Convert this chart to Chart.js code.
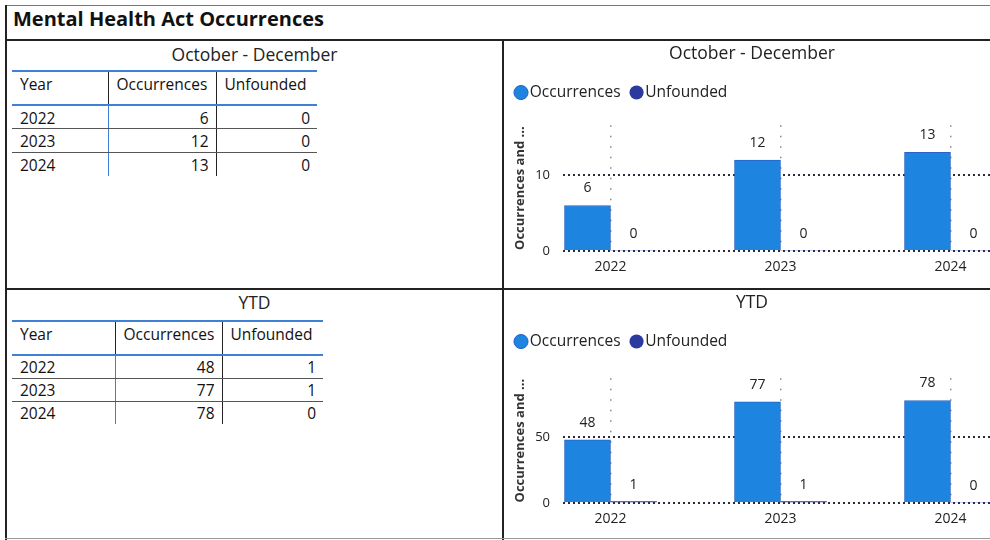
<!DOCTYPE html>
<html>
<head>
<meta charset="utf-8">
<title>Mental Health Act Occurrences</title>
<script src="https://cdn.jsdelivr.net/npm/chart.js@4.4.0/dist/chart.umd.min.js"></script>
<style>
  body { margin: 0; width: 990px; height: 540px; overflow: hidden; background: #fff;
         font-family: 'Open Sans', sans-serif; color: #222; position: relative; }
  .ln { position: absolute; background: #222; }
  #mainTitle { position: absolute; left: 13px; top: 5px; font-size: 20px; font-weight: bold; line-height: 28px; color: #111; }
  .panelTitle { position: absolute; width: 495px; left: 7px; text-align: center; font-size: 17.5px; line-height: 24px; }
  table { position: absolute; left: 12px; border-collapse: collapse; font-size: 15.5px; color: #111; }
  th { font-weight: normal; text-align: left; height: 30px; padding: 2px 0 0 8px; vertical-align: top; line-height: 20px;
       border-top: 2px solid #3d80d6; border-bottom: 2px solid #3d80d6; }
  td { height: 23px; padding: 1px 7px 0 8px; border-bottom: 1px solid #555; line-height: 18px; box-sizing: border-box; }
  #tblY td { height: 23px; }
  #tblQ td { height: 23.5px; }
  tr:last-child td { border-bottom: none; }
  td.num { text-align: right; }
  .c1 { border-right: 1.5px solid #3d80d6; }
  th.c1 { border-right-color: #222; }
  .c2 { border-right: 1.5px solid #222; }
  .chartBox { position: absolute; left: 505px; width: 494px; }
</style>
</head>
<body>
<div id="mainTitle">Mental Health Act Occurrences</div>
<!-- frame lines -->
<div class="ln" style="left:5px;top:5px;width:985px;height:1px;background:#777"></div>
<div class="ln" style="left:5px;top:5px;width:2px;height:535px"></div>
<div class="ln" style="left:5px;top:39px;width:985px;height:2px"></div>
<div class="ln" style="left:5px;top:288px;width:985px;height:2px"></div>
<div class="ln" style="left:502px;top:40px;width:2px;height:500px"></div>
<div class="ln" style="left:5px;top:538px;width:985px;height:1px;background:#999"></div>

<div class="panelTitle" style="top:42px">October - December</div>
<table id="tblQ" style="top:70px">
  <colgroup><col style="width:96px"><col style="width:108px"><col style="width:101px"></colgroup>
</table>
<div class="chartBox" style="top:42px;height:246px"><canvas id="chartQ"></canvas></div>

<div class="panelTitle" style="top:290px">YTD</div>
<table id="tblY" style="top:320px">
  <colgroup><col style="width:103px"><col style="width:107px"><col style="width:101px"></colgroup>
</table>
<div class="chartBox" style="top:291px;height:249px"><canvas id="chartY"></canvas></div>

<script>
const years = [2022, 2023, 2024];
const columns = ['Year', 'Occurrences', 'Unfounded'];
const seriesNames = ['Occurrences', 'Unfounded'];

// October - December
const occQuarter = [6, 12, 13];
const unfQuarter = [0, 0, 0];

// year to date
const occYtd = [48, 77, 78];
const unfYtd = [1, 1, 0];

const axisTitle = 'Occurrences and ...';

function fillTable(id, occ, unf) {
    const tbl = document.getElementById(id);
    let html = '<tr><th class="c1">' + columns[0] + '</th><th class="c2">' + columns[1] + '</th><th>' + columns[2] + '</th></tr>';
    years.forEach((y, i) => {
        html += '<tr><td class="c1">' + y + '</td><td class="c2 num">' + occ[i] + '</td><td class="num">' + unf[i] + '</td></tr>';
    });
    tbl.insertAdjacentHTML('beforeend', html);
}
fillTable('tblQ', occQuarter, unfQuarter);
fillTable('tblY', occYtd, unfYtd);

Chart.defaults.font.family = "'Open Sans', sans-serif";
Chart.defaults.color = '#222';

// value labels above each bar
const barLabels = {
    id: 'barLabels',
    afterDatasetsDraw(chart) {
        const ctx = chart.ctx;
        ctx.save();
        ctx.font = '14px "Open Sans"';
        ctx.fillStyle = '#222';
        ctx.textAlign = 'center';
        ctx.textBaseline = 'middle';
        chart.data.datasets.forEach((ds, i) => {
            chart.getDatasetMeta(i).data.forEach((bar, j) => {
                ctx.fillText(ds.data[j], bar.x, bar.y - 17);
            });
        });
        ctx.restore();
    }
};

// extra space between legend and plot
function legendGap(gap) {
    return {
        id: 'legendGap',
        beforeInit(chart) {
            const fitValue = chart.legend.fit;
            chart.legend.fit = function fit() {
                fitValue.bind(chart.legend)();
                this.height += gap;
            };
        }
    };
}

function makeChart(id, title, occ, unf, yMax, yStep, gap) {
    return new Chart(document.getElementById(id), {
        type: 'bar',
        plugins: [barLabels, legendGap(gap)],
        data: {
            labels: years,
            datasets: [{
                label: seriesNames[0],
                data: occ,
                backgroundColor: '#1d84e0',
                borderColor: '#2763c9',
                borderWidth: 1,
                barThickness: 46,
            },
            {
                label: seriesNames[1],
                data: unf,
                backgroundColor: '#2a3a9e',
                borderColor: '#2a3a9e',
                borderWidth: 0,
                barThickness: 46,
            }]
        },
        options: {
            responsive: true,
            maintainAspectRatio: false,
            animation: false,
            layout: { padding: 0 },
            plugins: {
                title: {
                    display: true,
                    text: title,
                    font: { size: 17.5, weight: 'normal' },
                    color: '#222',
                    padding: { top: 2, bottom: 4.8 },
                },
                legend: {
                    position: 'top',
                    align: 'start',
                    labels: {
                        usePointStyle: true,
                        pointStyle: 'circle',
                        boxWidth: 2,
                        boxHeight: 10,
                        padding: 15,
                        color: '#222',
                        font: { size: 15.5 },
                    },
                },
                tooltip: { enabled: false },
            },
            scales: {
                x: {
                    type: 'linear',
                    offset: false,
                    min: 2021.7206,
                    max: 2024.2853,
                    afterFit: s => { s.height = 37 },
                    ticks: {
                        stepSize: 1,
                        includeBounds: false,
                        padding: 8,
                        color: '#222',
                        font: { size: 14 },
                        callback: v => String(Math.round(v)),
                    },
                    grid: { offset: false, color: '#888', lineWidth: 1.5, drawTicks: false },
                    border: { display: false, dash: [1.5, 9] },
                },
                y: {
                    min: 0,
                    max: yMax,
                    afterFit: s => { s.width = 58 },
                    ticks: {
                        stepSize: yStep,
                        includeBounds: false,
                        padding: 13,
                        color: '#222',
                        font: { size: 13 },
                    },
                    grid: { color: '#2a2a3a', lineWidth: 2, drawTicks: false },
                    border: { display: false, dash: [2, 3] },
                    title: {
                        display: true,
                        text: axisTitle,
                        color: '#333',
                        font: { size: 13, weight: 'bold' },
                        padding: { top: 7, bottom: 0 },
                    },
                },
            },
        },
    });
}

makeChart('chartQ', 'October - December', occQuarter, unfQuarter, 16.58, 10, 15);
makeChart('chartY', 'YTD', occYtd, unfYtd, 94.9, 50, 19);
</script>
</body>
</html>
